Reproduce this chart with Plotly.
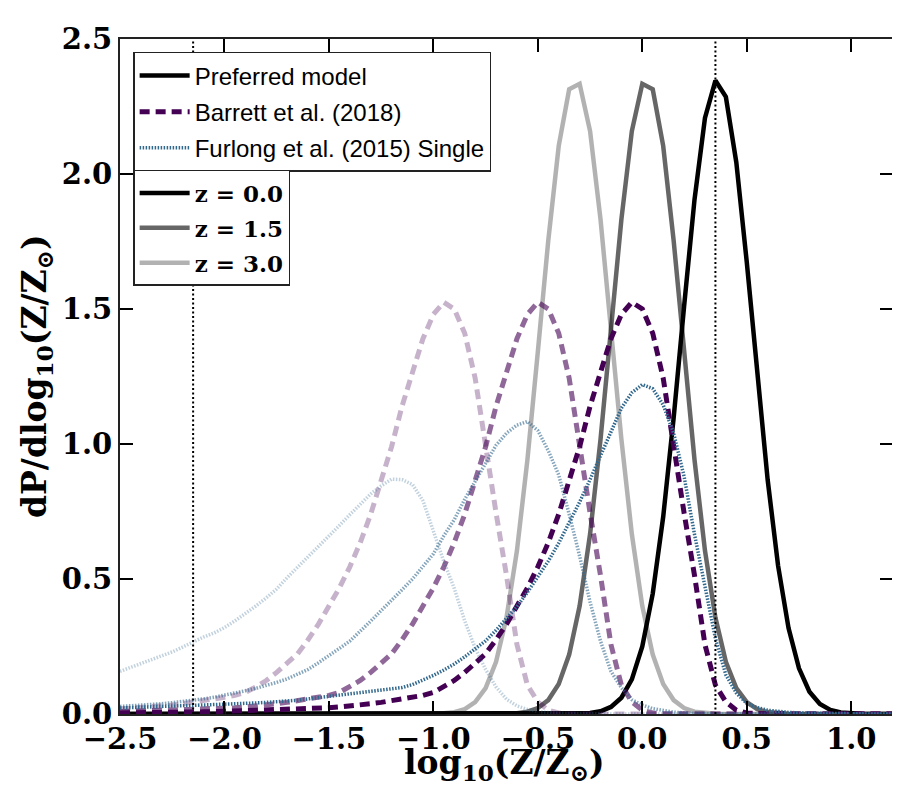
import plotly.graph_objects as go

# log10(Z/Zsun) grid, step 0.05 from -2.5 to 1.2
logz = [-2.50, -2.45, -2.40, -2.35, -2.30, -2.25, -2.20, -2.15, -2.10, -2.05,
        -2.00, -1.95, -1.90, -1.85, -1.80, -1.75, -1.70, -1.65, -1.60, -1.55,
        -1.50, -1.45, -1.40, -1.35, -1.30, -1.25, -1.20, -1.15, -1.10, -1.05,
        -1.00, -0.95, -0.90, -0.85, -0.80, -0.75, -0.70, -0.65, -0.60, -0.55,
        -0.50, -0.45, -0.40, -0.35, -0.30, -0.25, -0.20, -0.15, -0.10, -0.05,
        0.00, 0.05, 0.10, 0.15, 0.20, 0.25, 0.30, 0.35, 0.40, 0.45,
        0.50, 0.55, 0.60, 0.65, 0.70, 0.75, 0.80, 0.85, 0.90, 0.95,
        1.00, 1.05, 1.10, 1.15, 1.20]

# preferred model, z = 0.0 / 1.5 / 3.0
pref_z0 = [0, 0, 0, 0, 0, 0, 0, 0, 0, 0,
           0, 0, 0, 0, 0, 0, 0, 0, 0, 0,
           0, 0, 0, 0, 0, 0, 0, 0, 0, 0,
           0, 0, 0, 0, 0, 0, 0, 0, 0.0001, 0.0001,
           0.0001, 0.0001, 0.0001, 0.0004, 0.0013, 0.0038, 0.0103, 0.0261, 0.0604, 0.128,
           0.250, 0.446, 0.730, 1.096, 1.509, 1.906, 2.208, 2.346, 2.286, 2.043,
           1.674, 1.258, 0.868, 0.549, 0.318, 0.169, 0.0825, 0.0369, 0.0151, 0.0057,
           0.0020, 0.0006, 0.0002, 0, 0]
pref_z15 = [0, 0, 0, 0, 0, 0, 0, 0, 0, 0,
            0, 0, 0, 0, 0, 0, 0, 0, 0, 0,
            0, 0, 0, 0, 0, 0, 0, 0, 0, 0,
            0, 0, 0, 0, 0, 0, 0.0003, 0.0010, 0.0030, 0.0085,
            0.0219, 0.0515, 0.111, 0.220, 0.400, 0.666, 1.017, 1.425, 1.832, 2.159,
            2.334, 2.314, 2.104, 1.754, 1.342, 0.941, 0.605, 0.357, 0.193, 0.0959,
            0.0437, 0.0182, 0.0070, 0.0024, 0.0008, 0.0002, 0, 0, 0, 0,
            0, 0, 0, 0, 0]
pref_z3 = [0, 0, 0, 0, 0, 0, 0, 0, 0, 0,
           0, 0, 0, 0, 0, 0, 0, 0, 0, 0,
           0, 0, 0, 0, 0, 0, 0, 0, 0, 0.0002,
           0.0008, 0.0024, 0.0070, 0.0182, 0.0437, 0.0959, 0.193, 0.357, 0.605, 0.941,
           1.342, 1.754, 2.104, 2.314, 2.334, 2.159, 1.832, 1.425, 1.017, 0.666,
           0.400, 0.220, 0.111, 0.0515, 0.0219, 0.0085, 0.0030, 0.0010, 0.0003, 0,
           0, 0, 0, 0, 0, 0, 0, 0, 0, 0,
           0, 0, 0, 0, 0]

# Barrett et al. (2018)
barrett_z0 = [0.004, 0.004, 0.005, 0.005, 0.006, 0.006, 0.007, 0.007, 0.008, 0.009,
              0.010, 0.011, 0.012, 0.013, 0.014, 0.015, 0.016, 0.017, 0.019, 0.021,
              0.023, 0.026, 0.029, 0.033, 0.038, 0.043, 0.049, 0.055, 0.062, 0.069,
              0.080, 0.100, 0.124, 0.154, 0.188, 0.223, 0.275, 0.333, 0.400, 0.467,
              0.545, 0.635, 0.740, 0.860, 0.990, 1.140, 1.260, 1.390, 1.480, 1.525,
              1.500, 1.410, 1.244, 0.990, 0.745, 0.513, 0.257, 0.107, 0.045, 0.014,
              0.004, 0.001, 0, 0, 0, 0, 0, 0, 0, 0,
              0, 0, 0, 0, 0]
barrett_z15 = [0.009, 0.010, 0.011, 0.012, 0.013, 0.014, 0.015, 0.016, 0.017, 0.019,
               0.021, 0.023, 0.026, 0.029, 0.033, 0.038, 0.043, 0.049, 0.055, 0.062,
               0.069, 0.080, 0.100, 0.124, 0.154, 0.188, 0.223, 0.275, 0.333, 0.400,
               0.467, 0.545, 0.635, 0.740, 0.860, 0.990, 1.140, 1.260, 1.390, 1.480,
               1.525, 1.500, 1.410, 1.244, 0.990, 0.745, 0.513, 0.257, 0.107, 0.045,
               0.014, 0.004, 0.001, 0, 0, 0, 0, 0, 0, 0,
               0, 0, 0, 0, 0, 0, 0, 0, 0, 0,
               0, 0, 0, 0, 0]
barrett_z3 = [0.019, 0.021, 0.023, 0.026, 0.029, 0.033, 0.038, 0.043, 0.049, 0.055,
              0.062, 0.069, 0.080, 0.100, 0.124, 0.154, 0.188, 0.223, 0.275, 0.333,
              0.400, 0.467, 0.545, 0.635, 0.740, 0.860, 0.990, 1.140, 1.260, 1.390,
              1.480, 1.525, 1.500, 1.410, 1.244, 0.990, 0.745, 0.513, 0.257, 0.107,
              0.045, 0.014, 0.004, 0.001, 0, 0, 0, 0, 0, 0,
              0, 0, 0, 0, 0, 0, 0, 0, 0, 0,
              0, 0, 0, 0, 0, 0, 0, 0, 0, 0,
              0, 0, 0, 0, 0]

# Furlong et al. (2015) Single
furlong_z0 = [0.022, 0.024, 0.026, 0.028, 0.029, 0.030, 0.031, 0.032, 0.033, 0.034,
              0.035, 0.037, 0.039, 0.041, 0.043, 0.045, 0.047, 0.051, 0.056, 0.061,
              0.066, 0.071, 0.076, 0.080, 0.085, 0.089, 0.094, 0.098, 0.109, 0.125,
              0.143, 0.163, 0.185, 0.212, 0.242, 0.271, 0.310, 0.352, 0.398, 0.451,
              0.507, 0.566, 0.633, 0.707, 0.785, 0.868, 0.957, 1.050, 1.133, 1.190,
              1.220, 1.205, 1.145, 1.040, 0.880, 0.665, 0.472, 0.280, 0.145, 0.078,
              0.039, 0.024, 0.014, 0.009, 0.006, 0.004, 0.003, 0.002, 0.001, 0.001,
              0, 0, 0, 0, 0]
furlong_z15 = [0.028, 0.030, 0.032, 0.034, 0.038, 0.042, 0.046, 0.050, 0.056, 0.062,
               0.069, 0.078, 0.086, 0.095, 0.105, 0.117, 0.130, 0.146, 0.165, 0.190,
               0.215, 0.243, 0.270, 0.305, 0.344, 0.383, 0.420, 0.460, 0.500, 0.545,
               0.593, 0.660, 0.720, 0.795, 0.862, 0.930, 0.995, 1.040, 1.070, 1.083,
               1.050, 0.975, 0.885, 0.740, 0.585, 0.415, 0.270, 0.158, 0.097, 0.053,
               0.033, 0.020, 0.012, 0.007, 0.004, 0.002, 0.001, 0, 0, 0,
               0, 0, 0, 0, 0, 0, 0, 0, 0, 0,
               0, 0, 0, 0, 0]
furlong_z3 = [0.158, 0.172, 0.186, 0.200, 0.215, 0.230, 0.248, 0.268, 0.285, 0.300,
              0.320, 0.345, 0.372, 0.400, 0.430, 0.463, 0.505, 0.543, 0.582, 0.620,
              0.660, 0.698, 0.738, 0.775, 0.815, 0.845, 0.870, 0.868, 0.850, 0.790,
              0.680, 0.565, 0.465, 0.345, 0.244, 0.165, 0.100, 0.055, 0.030, 0.017,
              0.009, 0.005, 0.003, 0.002, 0.001, 0, 0, 0, 0, 0,
              0, 0, 0, 0, 0, 0, 0, 0, 0, 0,
              0, 0, 0, 0, 0, 0, 0, 0, 0, 0,
              0, 0, 0, 0, 0]

redshifts = ["0.0", "1.5", "3.0"]
alphas = [1.0, 0.6, 0.3]
vlines = [-2.15, 0.35]

models = [
    ("Preferred model", [pref_z0, pref_z15, pref_z3], (0, 0, 0), "solid", 4.5),
    ("Barrett et al. (2018)", [barrett_z0, barrett_z15, barrett_z3], (68, 1, 84), "10px,6px", 5),
    ("Furlong et al. (2015) Single", [furlong_z0, furlong_z15, furlong_z3], (49, 104, 142), "1.5px,1.5px", 3.5),
]


def rgba(c, a):
    return "rgba(%d,%d,%d,%.2f)" % (c[0], c[1], c[2], a)


serif = "DejaVu Serif"
fig = go.Figure()

for name, series, col, dash, w in models:
    for ys, a in zip(series, alphas):
        fig.add_trace(go.Scatter(x=logz, y=ys, mode="lines", showlegend=False,
                                 line=dict(color=rgba(col, a), width=w, dash=dash)))

# legend 1: models
for name, series, col, dash, w in models:
    fig.add_trace(go.Scatter(x=[None], y=[None], mode="lines", name=name,
                             legend="legend", legendgroup=name,
                             line=dict(color=rgba(col, 1.0), width=w, dash=dash)))

# legend 2: redshifts
for zs, a in zip(redshifts, alphas):
    fig.add_trace(go.Scatter(x=[None], y=[None], mode="lines",
                             name="<b>z = %s</b>" % zs, legend="legend2", legendgroup=zs,
                             line=dict(color=rgba((0, 0, 0), a), width=4.5)))

for v in vlines:
    fig.add_vline(x=v, line=dict(color="black", width=2, dash="2px,2.5px"))

axis_common = dict(showgrid=False, zeroline=False, ticks="inside", ticklen=13, tickwidth=1.5,
                   tickcolor="black", showline=True, linecolor="#222", linewidth=2,
                   mirror="ticks", tickformat=".1f", automargin=False,
                   tickfont=dict(family=serif, size=29, weight="bold", color="black"))

fig.update_xaxes(range=[-2.5, 1.2], dtick=0.5, tick0=-2.5, ticklabelstandoff=-2, **axis_common)
fig.update_yaxes(range=[0, 2.5], dtick=0.5, **axis_common)

# axis titles placed as annotations for tighter control
title_font = dict(family=serif, size=33, color="black")
fig.add_annotation(text="<b>log<sub>10</sub>(Z/Z<sub>⊙</sub>)</b>", xref="paper", yref="paper",
                   x=0.497, y=-0.04, xanchor="center", yanchor="top", showarrow=False,
                   font=title_font)
fig.add_annotation(text="<b>dP/dlog<sub>10</sub>(Z/Z<sub>⊙</sub>)</b>", xref="paper", yref="paper",
                   x=-0.108, y=0.5, xanchor="center", yanchor="middle", textangle=-90,
                   showarrow=False, font=title_font)

fig.update_layout(
    width=900, height=800,
    margin=dict(l=112, r=15, t=31, b=94),
    plot_bgcolor="white", paper_bgcolor="white",
    legend=dict(x=0.017, y=0.981, xanchor="left", yanchor="top", itemwidth=50,
                bgcolor="white", bordercolor="#222", borderwidth=1.5,
                tracegroupgap=2, font=dict(family="Liberation Sans", size=24, color="black")),
    legend2=dict(x=0.017, y=0.806, xanchor="left", yanchor="top", itemwidth=50,
                 bgcolor="white", bordercolor="#222", borderwidth=1.5,
                 tracegroupgap=2, font=dict(family=serif, size=23, color="black")),
)

fig.write_html("out.html")
